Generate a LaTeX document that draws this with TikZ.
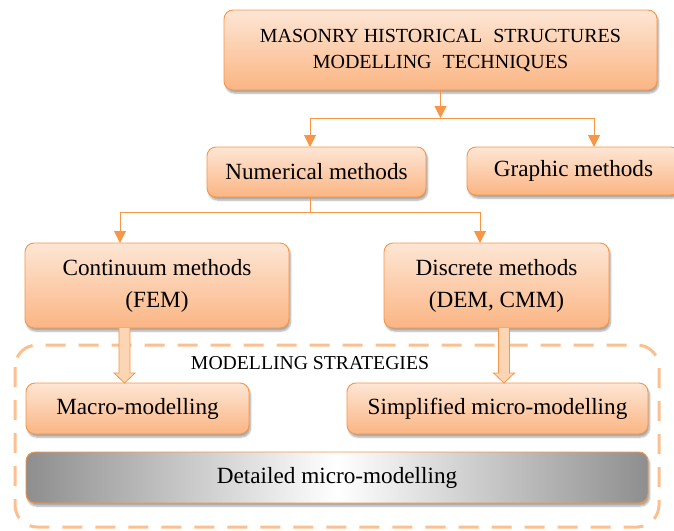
\documentclass[tikz,border=0pt]{standalone}
\usepackage{fontspec}
\setmainfont{Liberation Serif}
\usetikzlibrary{arrows.meta,shadows.blur,calc}
\definecolor{orbd}{HTML}{F79646}
\definecolor{ortop}{HTML}{FDE6D5}
\definecolor{orbot}{HTML}{FBB583}
\definecolor{dashc}{HTML}{FAC090}
\definecolor{arrfill}{HTML}{FCD5B5}
\definecolor{grc}{HTML}{8E8E8E}
\tikzset{
 shad/.style={blur shadow={shadow xshift=1.5pt, shadow yshift=-3pt, shadow blur steps=6, shadow opacity=35}},
 box/.style={draw=orbd, line width=0.9pt, rounded corners=9pt, top color=ortop, bottom color=orbot,
   inner sep=0pt, outer sep=0pt, align=center, shad, font=\fontsize{23.2}{32}\selectfont},
 graybox/.style={draw=orbd, line width=0.9pt, rounded corners=9pt, left color=grc, right color=grc, middle color=white,
   inner sep=0pt, outer sep=0pt, align=center, shad, font=\fontsize{23.2}{32}\selectfont},
 conn/.style={draw=orbd, line width=1pt},
 arr/.style={conn, -{Triangle[width=12pt,length=12pt]}},
 blockarr/.style={draw=orbd, fill=arrfill, line width=0.8pt, line join=miter},
 strat/.style={font=\fontsize{19.7}{22}\selectfont, inner sep=0pt},
}
\begin{document}
\begin{tikzpicture}[x=1pt,y=-1pt]
\useasboundingbox (0,0) rectangle (674,530);
\clip (0,0) rectangle (674,530);
% dashed frame
\draw[dashc, line width=3pt, dash pattern=on 20pt off 13pt, rounded corners=22pt] (15,345) rectangle (659,527);
% nodes
\node[box, minimum width=433pt, minimum height=80pt, font=\fontsize{20}{26}\selectfont] (top) at (440.5,50)
  {MASONRY HISTORICAL\hspace{0.3em} STRUCTURES\\MODELLING\hspace{0.3em} TECHNIQUES};
\node[box, minimum width=219pt, minimum height=50pt] (num) at (316.5,172) {Numerical methods};
\node[box, minimum width=213pt, minimum height=48pt] (gra) at (573.5,171) {Graphic methods};
\node[box, minimum width=264pt, minimum height=85pt] (cont) at (157,285.5) {Continuum methods\\(FEM)};
\node[box, minimum width=225pt, minimum height=85pt] (disc) at (496.5,285.5) {Discrete methods\\(DEM, CMM)};
\node[strat] (str) at (310,363) {MODELLING STRATEGIES};
\node[box, minimum width=223pt, minimum height=51pt] (mac) at (137.5,408.5) {Macro-modelling};
\node[box, minimum width=301pt, minimum height=51pt] (sim) at (497.5,408.5) {Simplified micro-modelling};
\node[graybox, minimum width=622pt, minimum height=51pt] (det) at (337,477.5) {Detailed micro-modelling};
% connectors level 1
\coordinate (j1) at (440.5,118);
\coordinate (b1) at (310,118);
\coordinate (b2) at (594,118);
\draw[arr] (top.south) -- (j1);
\draw[conn] (b1) -- (b2);
\draw[arr] (b1) -- (b1 |- num.north);
\draw[arr] (b2) -- (b2 |- gra.north);
% connectors level 2
\coordinate (j2) at (310,212);
\coordinate (c1) at (120,212);
\coordinate (c2) at (480,212);
\draw[conn] (j2 |- num.south) -- (j2);
\draw[conn] (c1) -- (c2);
\draw[arr] (c1) -- (c1 |- cont.north);
\draw[arr] (c2) -- (c2 |- disc.north);
% block arrows
\coordinate (ka) at (124.5,0);
\coordinate (kb) at (504,0);
\foreach \k/\s/\e in {ka/cont/mac, kb/disc/sim}{
  \coordinate (S) at (\k |- \s.south);
  \coordinate (E) at (\k |- \e.north);
  \filldraw[blockarr] ($(S)+(-5.5,0)$) -- ($(E)+(-5.5,-10)$) -- ($(E)+(-10.5,-10)$) -- (E)
     -- ($(E)+(10.5,-10)$) -- ($(E)+(5.5,-10)$) -- ($(S)+(5.5,0)$);
}
\end{tikzpicture}
\end{document}
